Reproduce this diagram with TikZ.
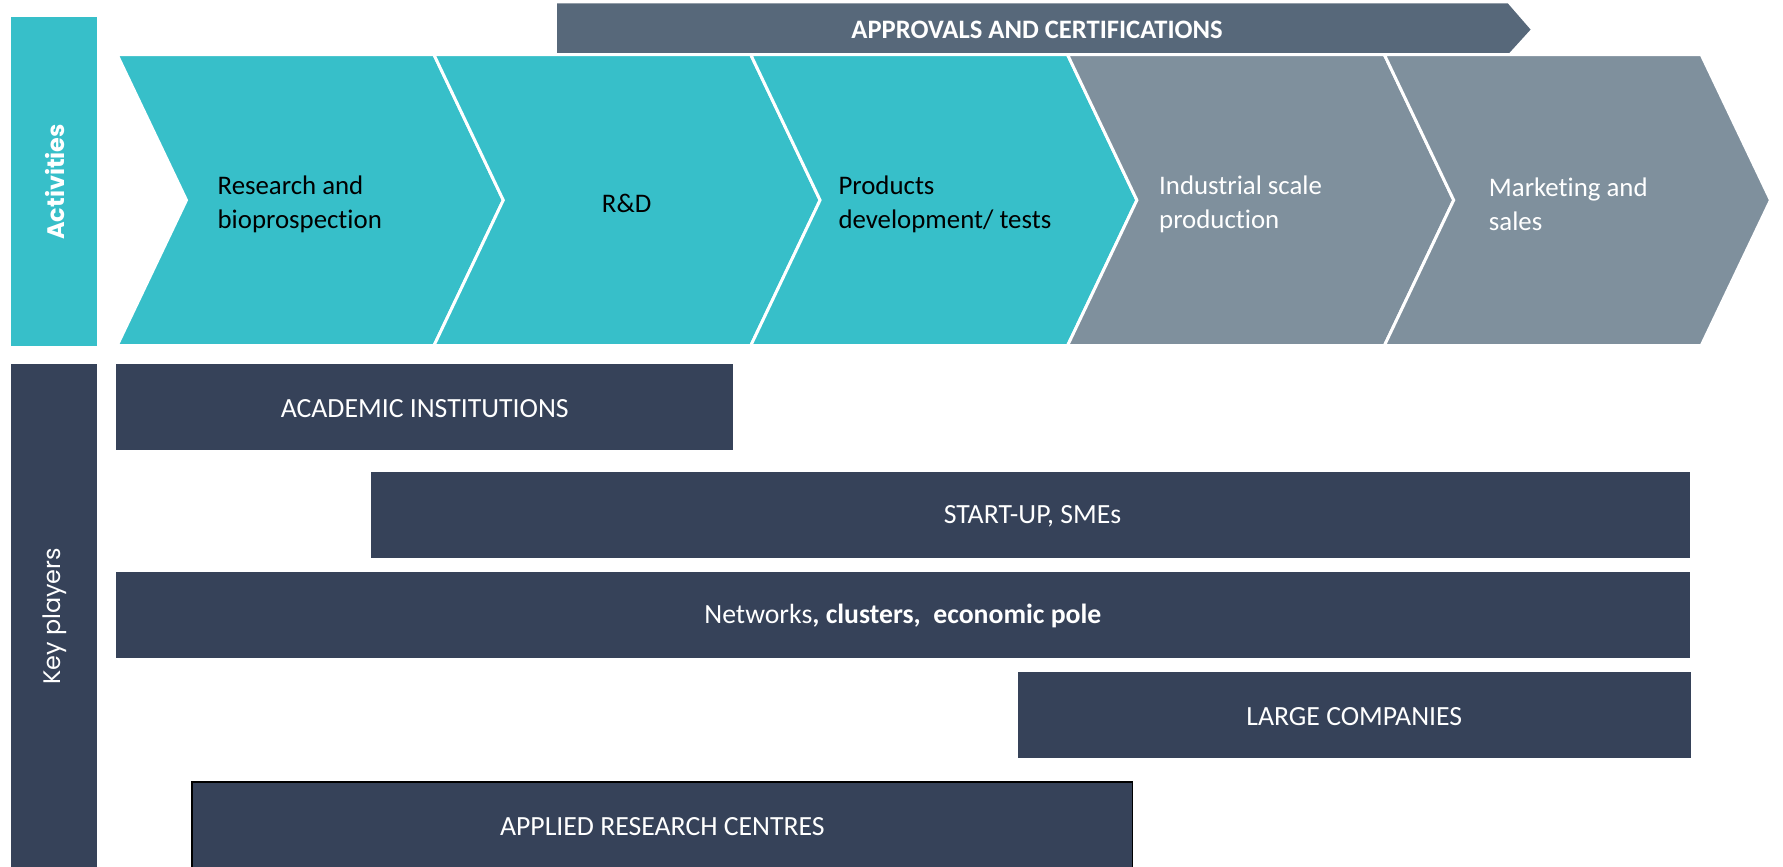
\documentclass[tikz,border=0pt]{standalone}
\usepackage{fontspec}
\setmainfont{Carlito}[Ligatures={NoCommon}]
\newfontfamily\sidefont{Poppins}
\definecolor{teal1}{HTML}{37BFC9}
\definecolor{gray1}{HTML}{7F909D}
\definecolor{appr}{HTML}{57687A}
\definecolor{navy}{HTML}{364259}
\tikzset{
  chevt/.style={fill=teal1,draw=white,line width=1.3pt,line join=miter},
  chevg/.style={fill=gray1,draw=white,line width=1.3pt,line join=miter},
  ctext/.style={anchor=west,align=left,inner sep=0pt,font=\fontsize{11.8}{15}\selectfont},
  playerbox/.style={fill=navy},
  btext/.style={text=white,inner sep=0pt,font=\fontsize{12.2}{15}\selectfont},
  sidetext/.style={text=white,rotate=90,inner sep=0pt}
}
\begin{document}
\begin{tikzpicture}[x=0.5pt,y=-0.5pt]
\useasboundingbox (0,0) rectangle (1568,762.4);
% side bars
\fill[teal1] (10,15) rectangle (85,304);
\fill[navy] (10,320) rectangle (85,762.4);
\node[sidetext,font=\sidefont\bfseries\fontsize{10.5}{12}\selectfont] (act) at (48,160) {Activities};
\node[sidetext,font=\sidefont\fontsize{10.5}{12}\selectfont] (kp) at (48,542) {Key players};
% approvals arrow
\fill[appr] (490,3) -- (1326,3) -- (1346,26) -- (1326,48) -- (490,48) -- cycle;
\node[text=white,inner sep=0pt,font=\bfseries\fontsize{11.7}{14}\selectfont] (appr) at (912,26.5) {APPROVALS AND CERTIFICATIONS};
% chevrons
\foreach \i/\st in {0/chevt,1/chevt,2/chevt,3/chevg,4/chevg}{
  \pgfmathsetmacro{\L}{103+278.6*\i}
  \pgfmathsetmacro{\R}{\L+278.6}
  \path[\st] (\L,48) -- (\R,48) -- (\R+61,176) -- (\R,304) -- (\L,304) -- (\L+61,176) -- cycle;
}
\node[ctext] (c1) at (191,180) {Research and\\bioprospection};
\node[ctext] (c2) at (529,179) {R\&D};
\node[ctext] (c3) at (737,180) {Products\\development/ tests};
\node[ctext,text=white] (c4) at (1019,180) {Industrial scale\\production};
\node[ctext,text=white] (c5) at (1309,180) {Marketing and\\sales};
% key players boxes
\fill[playerbox] (102,320) rectangle (645,396);
\node[btext] (b1) at (373.5,359) {ACADEMIC INSTITUTIONS};
\fill[playerbox] (326,415) rectangle (1486,491);
\node[btext] (b2) at (908,454) {START-UP, SMEs};
\fill[playerbox] (102,503) rectangle (1486,579);
\node[btext] (b3) at (794,542) {Networks\textbf{, clusters,\ \ economic pole}};
\fill[playerbox] (895,591) rectangle (1487,667);
\node[btext] (b4) at (1191,630) {LARGE COMPANIES};
\draw[playerbox,draw=black,line width=0.8pt] (169,688) rectangle (996,790);
\node[btext] (b5) at (582.5,727) {APPLIED RESEARCH CENTRES};
\end{tikzpicture}
\end{document}
